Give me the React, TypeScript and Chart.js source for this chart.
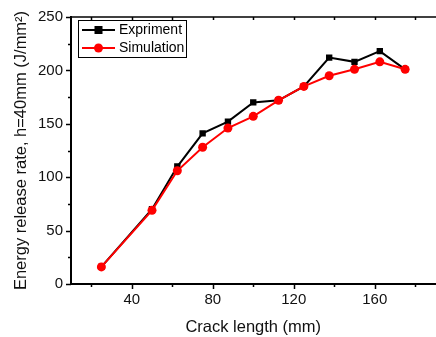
import React, { useEffect, useRef } from "react";
import { Chart, registerables } from "chart.js";

Chart.register(...registerables);

const crackLength = [25, 50, 62.5, 75, 87.5, 100, 112.5, 125, 137.5, 150, 162.5, 175];
const expriment = [16, 70, 110, 141, 152, 170, 172, 185, 212, 208, 218, 201];
const simulation = [16, 69, 106, 128, 146, 157, 172, 185, 195, 201, 208, 201];
const xMajorTicks = [40, 80, 120, 160];
const xMinorTicks = [20, 60, 100, 140, 180];
const yMajorTicks = [0, 50, 100, 150, 200, 250];
const yMinorTicks = [25, 75, 125, 175, 225];
const seriesNames = ["Expriment", "Simulation"];
const xTitle = "Crack length (mm)";
const yTitle = "Energy release rate, h=40mm (J/mm\u00B2)";

const FONT = "'Liberation Sans', Arial, sans-serif";

const framePlugin = {
  id: "originFrame",
  afterDraw(chart: any) {
    const { ctx, chartArea } = chart;
    const xs = chart.scales.x;
    const ys = chart.scales.y;
    ctx.save();
    ctx.strokeStyle = "#000";
    ctx.lineWidth = 1.5;
    // top line (right border lies outside the visible picture)
    ctx.beginPath();
    ctx.moveTo(chartArea.left, chartArea.top);
    ctx.lineTo(chartArea.right + 4, chartArea.top);
    ctx.stroke();
    const drawX = (vals: number[], len: number) => {
      vals.forEach((v) => {
        const px = Math.round(xs.getPixelForValue(v)) + 0.5;
        ctx.beginPath();
        ctx.moveTo(px, chartArea.bottom);
        ctx.lineTo(px, chartArea.bottom + len);
        ctx.moveTo(px, chartArea.top);
        ctx.lineTo(px, chartArea.top + 3);
        ctx.stroke();
      });
    };
    drawX(xMajorTicks, 5);
    drawX(xMinorTicks, 3);
    const drawY = (vals: number[], len: number) => {
      vals.forEach((v) => {
        const py = Math.round(ys.getPixelForValue(v)) + 0.5;
        ctx.beginPath();
        ctx.moveTo(chartArea.left, py);
        ctx.lineTo(chartArea.left - len, py);
        ctx.stroke();
      });
    };
    drawY(yMajorTicks, 5);
    drawY(yMinorTicks, 3);

    // legend
    const bx = 78.5, by = 20.5, bw = 108, bh = 37;
    ctx.lineWidth = 1;
    ctx.strokeStyle = "#000";
    ctx.strokeRect(bx, by, bw, bh);
    const rows = [
      { name: seriesNames[0], color: "#000000", y: 30, shape: "rect" },
      { name: seriesNames[1], color: "#ff0000", y: 48, shape: "circle" },
    ];
    rows.forEach((r) => {
      ctx.strokeStyle = r.color;
      ctx.fillStyle = r.color;
      ctx.lineWidth = 2;
      ctx.beginPath();
      ctx.moveTo(82, r.y);
      ctx.lineTo(115, r.y);
      ctx.stroke();
      if (r.shape === "rect") {
        ctx.fillRect(98.5 - 4, r.y - 4, 8, 8);
      } else {
        ctx.beginPath();
        ctx.arc(98.5, r.y, 4.5, 0, Math.PI * 2);
        ctx.fill();
      }
      ctx.fillStyle = "#000";
      ctx.font = `14px ${FONT}`;
      ctx.textBaseline = "middle";
      ctx.textAlign = "left";
      ctx.fillText(r.name, 119, r.y + 0.5);
    });
    ctx.restore();
  },
};

export default function App() {
  const ref = useRef<HTMLCanvasElement | null>(null);
  useEffect(() => {
    if (!ref.current) return;
    const chart = new Chart(ref.current, {
      type: "line",
      data: {
        datasets: [
          {
            label: seriesNames[0],
            data: crackLength.map((x, i) => ({ x, y: expriment[i] })),
            borderColor: "#000000",
            backgroundColor: "#000000",
            borderWidth: 2,
            pointStyle: "rect",
            pointRadius: 4.5,
            pointBorderWidth: 0,
            order: 1,
          },
          {
            label: seriesNames[1],
            data: crackLength.map((x, i) => ({ x, y: simulation[i] })),
            borderColor: "#ff0000",
            backgroundColor: "#ff0000",
            borderWidth: 2,
            pointStyle: "circle",
            pointRadius: 4.5,
            pointBorderWidth: 0,
            order: 0,
          },
        ],
      },
      options: {
        animation: false,
        responsive: false,
        maintainAspectRatio: false,
        layout: { padding: { top: 13, right: 2, left: 0, bottom: 0 } },
        plugins: {
          legend: { display: false },
          tooltip: { enabled: false },
        },
        scales: {
          x: {
            type: "linear",
            min: 10,
            max: 190,
            afterBuildTicks: (s: any) => {
              s.ticks = xMajorTicks.map((v) => ({ value: v }));
            },
            afterFit: (s: any) => {
              s.height = 53;
            },
            grid: { display: false, drawTicks: false },
            border: { display: true, color: "#000", width: 2 },
            ticks: {
              color: "#111",
              padding: 7,
              font: { family: FONT, size: 15 },
              maxRotation: 0,
              autoSkip: false,
            },
            title: {
              display: true,
              text: xTitle,
              color: "#111",
              font: { family: FONT, size: 16.5 },
              padding: { top: 1, bottom: 0 },
            },
          },
          y: {
            type: "linear",
            min: 0,
            max: 250,
            afterBuildTicks: (s: any) => {
              s.ticks = yMajorTicks.map((v) => ({ value: v }));
            },
            afterFit: (s: any) => {
              s.width = 71;
            },
            grid: { display: false, drawTicks: false },
            border: { display: true, color: "#000", width: 2 },
            ticks: {
              color: "#111",
              padding: 8,
              font: { family: FONT, size: 15 },
            },
            title: {
              display: true,
              text: yTitle,
              color: "#111",
              font: { family: FONT, size: 16.5 },
              padding: { top: 12, bottom: 0 },
            },
          },
        },
      },
      plugins: [framePlugin],
    });
    return () => chart.destroy();
  }, []);
  return (
    <div
      style={{
        position: "absolute",
        left: 0,
        top: 0,
        width: 436,
        height: 337,
        overflow: "hidden",
        background: "#fff",
      }}
    >
      <canvas ref={ref} width={440} height={337} style={{ width: 440, height: 337, display: "block" }} />
    </div>
  );
}
